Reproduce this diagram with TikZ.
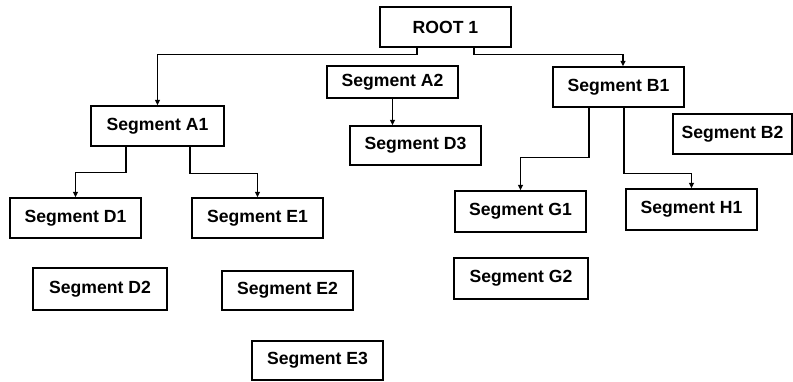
\documentclass[tikz,border=0pt]{standalone}
\usepackage{fontspec}
\setmainfont{Liberation Sans}
\usetikzlibrary{arrows.meta}

\tikzset{
  segbox/.style={draw, line width=1.4pt, inner sep=0pt, align=center,
    font=\fontsize{17.6}{20}\selectfont\bfseries},
  conn/.style={line width=1.4pt, -{Triangle[width=5pt,length=5.5pt]}},
}

\begin{document}
\begin{tikzpicture}[x=1pt, y=-1pt]
  \useasboundingbox (0,0) rectangle (793,381);

  % top level
  \node[segbox, minimum width=131pt, minimum height=40pt] (R)  at (445.5,27)  {ROOT 1};
  \node[segbox, minimum width=131pt, minimum height=32pt] (A2) at (392.5,82)  {Segment A2};
  \node[segbox, minimum width=131pt, minimum height=40pt] (B1) at (618.5,87)  {Segment B1};

  % second level
  \node[segbox, minimum width=133pt, minimum height=40pt] (A1) at (157.5,126) {Segment A1};
  \node[segbox, minimum width=131pt, minimum height=39pt] (D3) at (415.5,145.5) {Segment D3};
  \node[segbox, minimum width=119pt, minimum height=40pt] (B2) at (732.5,134) {Segment B2};

  % third level
  \node[segbox, minimum width=131pt, minimum height=40pt] (D1) at (75.5,218)  {Segment D1};
  \node[segbox, minimum width=131pt, minimum height=40pt] (E1) at (257.5,218) {Segment E1};
  \node[segbox, minimum width=131pt, minimum height=41pt] (G1) at (520.5,211.5) {Segment G1};
  \node[segbox, minimum width=131pt, minimum height=41pt] (H1) at (691.5,209.5) {Segment H1};

  % loose segments
  \node[segbox, minimum width=134pt, minimum height=42pt] (D2) at (100,289)   {Segment D2};
  \node[segbox, minimum width=131pt, minimum height=39pt] (E2) at (287.5,290.5) {Segment E2};
  \node[segbox, minimum width=134pt, minimum height=41pt] (G2) at (521,278.5) {Segment G2};
  \node[segbox, minimum width=131pt, minimum height=39pt] (E3) at (317.5,360.5) {Segment E3};

  % connectors
  \draw[conn] ([xshift=-28.5pt]R.south) -- ++(0,6.5) -| (A1.north);
  \draw[conn] ([xshift=28.5pt]R.south) -- ++(0,6.5) -| ([xshift=4.5pt]B1.north);
  \draw[conn] (A2.south) -- (A2.south |- D3.north);
  \draw[conn] ([xshift=-31.5pt]A1.south) -- ++(0,25.5) -| (D1.north);
  \draw[conn] ([xshift=32.5pt]A1.south) -- ++(0,26.5) -| (E1.north);
  \draw[conn] ([xshift=-29.5pt]B1.south) -- ++(0,49.5) -| (G1.north);
  \draw[conn] ([xshift=5.5pt]B1.south) -- ++(0,65.5) -| (H1.north);
\end{tikzpicture}
\end{document}
